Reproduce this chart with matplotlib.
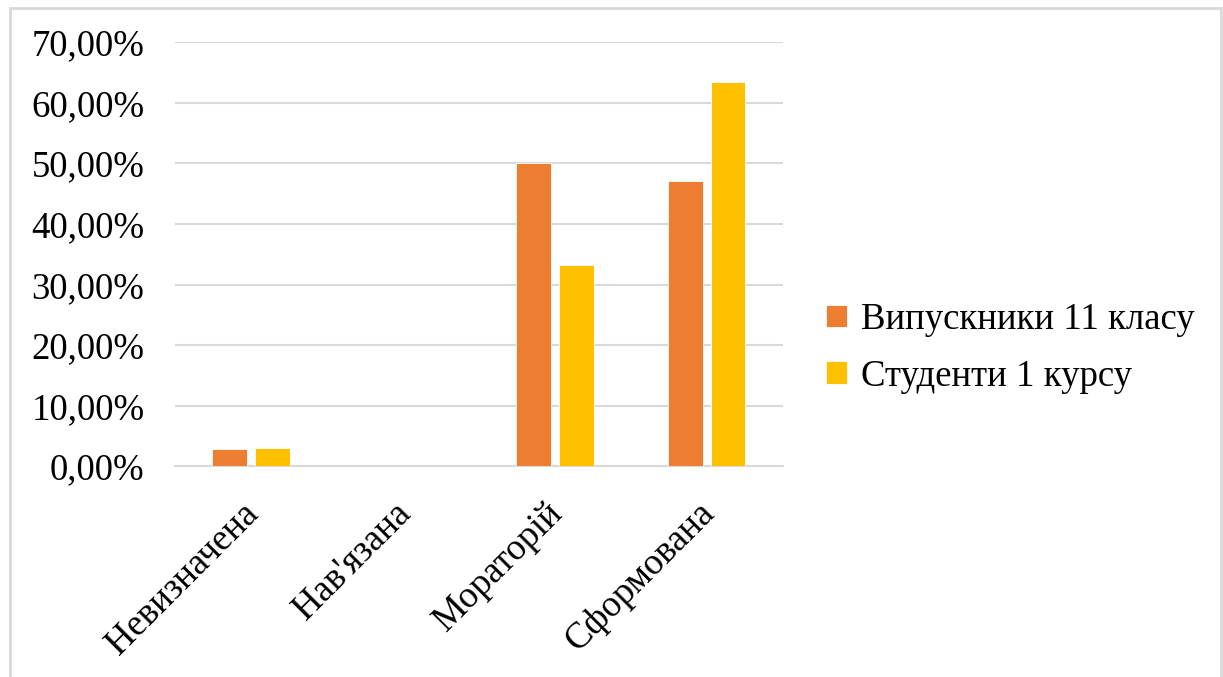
import matplotlib.pyplot as plt
import matplotlib.transforms as mtransforms
import numpy as np
from matplotlib.patches import Rectangle
from matplotlib.ticker import FuncFormatter

# Дані
categories = ["Невизначена", "Нав'язана", "Мораторій", "Сформована"]
grads = [2.9, 0.0, 50.0, 47.0]      # Випускники 11 класу, %
students = [3.1, 0.0, 33.2, 63.4]   # Студенти 1 курсу, %
series_names = ["Випускники 11 класу", "Студенти 1 курсу"]

plt.rcParams['font.family'] = ['Liberation Serif', 'DejaVu Serif']

fig = plt.figure(figsize=(12.23, 6.77), dpi=100)
ax = fig.add_axes([0.1431, 0.3112, 0.4971, 0.6266])

x = np.arange(len(categories))
w = 0.225
off = 0.141
ax.bar(x - off, grads, w, color="#ED7D31", edgecolor="white", linewidth=0.6,
       label=series_names[0], zorder=3)
ax.bar(x + off, students, w, color="#FFC000", edgecolor="white", linewidth=0.6,
       label=series_names[1], zorder=3)

ax.set_xlim(-0.5, len(categories) - 0.5)
ax.set_ylim(0, 70)
ax.set_yticks(np.arange(0, 71, 10))
ax.yaxis.set_major_formatter(FuncFormatter(lambda v, p: f"{v:.2f}%".replace(".", ",")))
ax.yaxis.grid(True, color="#d9d9d9", linewidth=1.5, zorder=0)
ax.tick_params(axis="both", length=0, labelsize=26.5)
ax.tick_params(axis="y", pad=22)
ax.set_xticks(x)
ax.set_xticklabels(categories, rotation=45, ha="right", rotation_mode="anchor")
ax.tick_params(axis="x", pad=12)

# зсув підписів категорій
shift = mtransforms.ScaledTranslation(-0.10, -0.13, fig.dpi_scale_trans)
for lab in ax.get_xticklabels():
    lab.set_transform(lab.get_transform() + shift)

for s in ["top", "right", "left"]:
    ax.spines[s].set_visible(False)
ax.spines["bottom"].set_color("#d9d9d9")
ax.spines["bottom"].set_linewidth(1.5)

ax.legend(loc="center left", bbox_to_anchor=(1.017, 0.279), frameon=False,
          fontsize=26.5, handlelength=0.55, handleheight=0.55, handletextpad=0.4,
          labelspacing=0.6)

# рамка навколо діаграми
fig.patches.append(Rectangle((10 / 1223, -0.01), 1211 / 1223, 1 - 8 / 677 + 0.01,
                             transform=fig.transFigure, fill=False,
                             edgecolor="#d9d9d9", linewidth=2))

fig.savefig("out.png", dpi=100)
